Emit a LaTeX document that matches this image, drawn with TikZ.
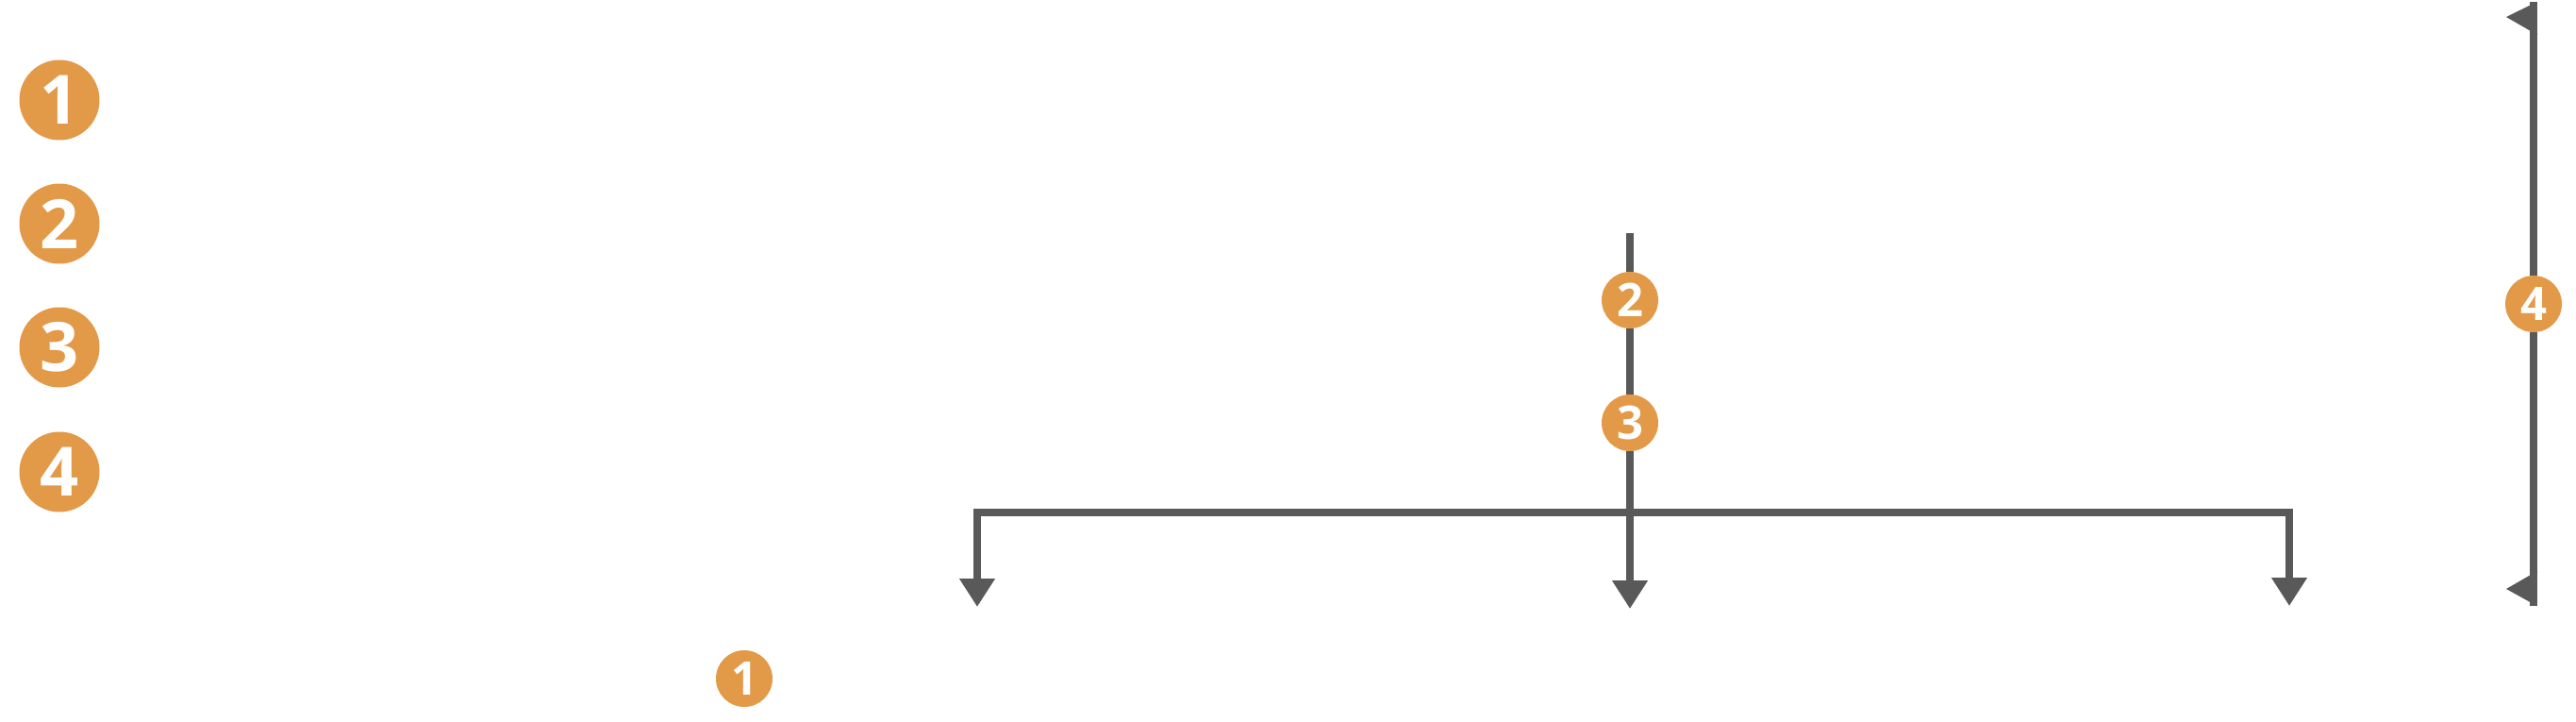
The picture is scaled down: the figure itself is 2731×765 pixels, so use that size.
\documentclass[tikz,border=0pt]{standalone}
\usepackage{fontspec}
\setmainfont{Open Sans}
\usetikzlibrary{arrows.meta}
\definecolor{badge}{RGB}{227,154,72}
\definecolor{linegray}{RGB}{89,89,89}
\tikzset{
  bigbadge/.style={circle,fill=badge,inner sep=0pt,minimum size=85pt,text=white,font=\fontsize{72}{74}\selectfont\bfseries},
  smallbadge/.style={circle,fill=badge,inner sep=0pt,minimum size=60pt,text=white,font=\fontsize{49}{52}\selectfont\bfseries},
  wire/.style={draw=linegray,line width=7.5pt,line cap=butt,line join=miter},
  downarrow/.style={wire,-{Triangle[width=36pt,length=30pt]}},
  flag/.style={fill=linegray,draw=none}
}
\begin{document}
\begin{tikzpicture}[x=1pt,y=-1pt]
\useasboundingbox (0,0) rectangle (2731,765);
% legend badges
\node[bigbadge] (l1) at (63,106) {1};
\node[bigbadge] (l2) at (63,237) {2};
\node[bigbadge] (l3) at (63,368) {3};
\node[bigbadge] (l4) at (63,500) {4};
% bottom badge
\node[smallbadge] (b1) at (789,719) {1};
% central trunk badges
\node[smallbadge] (n2) at (1728,318) {2};
\node[smallbadge] (n3) at (1728,448) {3};
% right dimension badge
\node[smallbadge] (n4) at (2686,322) {4};
% coordinates
\coordinate (ctop) at (1728,247);
\coordinate (lc) at (1036,543);
\coordinate (rc) at (2427,543);
\coordinate (tipL) at (1036,643);
\coordinate (tipC) at (1728,645);
\coordinate (tipR) at (2427,642);
\coordinate (rtop) at (2686,2);
\coordinate (rbot) at (2686,642);
% trunk
\draw[wire] (ctop) -- (n2);
\draw[wire] (n2) -- (n3);
\draw[downarrow] (n3) -- (tipC);
% branches
\draw[downarrow] (rc) -- (lc) -- (tipL);
\draw[downarrow] (lc) -- (rc) -- (tipR);
% right dimension line
\draw[wire] (rtop) -- (n4);
\draw[wire] (n4) -- (rbot);
\fill[flag] ([xshift=3.5pt]rtop) -- (2657,18) -- (2690,37) -- cycle;
\fill[flag] (2690,605) -- (2657,624) -- ([xshift=3.5pt]rbot) -- cycle;
\end{tikzpicture}
\end{document}
